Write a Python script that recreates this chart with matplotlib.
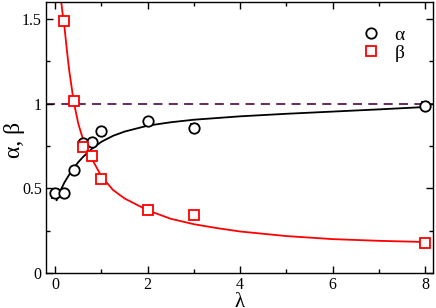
import matplotlib
matplotlib.use("Agg")
import matplotlib.pyplot as plt
from matplotlib.ticker import MultipleLocator
from matplotlib.lines import Line2D

plt.rcParams['font.family'] = ['Liberation Serif', 'DejaVu Serif']
plt.rcParams['mathtext.fontset'] = 'stix'

# data points
lam_alpha = [0, 0.2, 0.4, 0.6, 0.8, 1.0, 2.0, 3.0, 8.0]
alpha = [0.47, 0.47, 0.61, 0.765, 0.775, 0.84, 0.90, 0.857, 0.987]
alpha_err = [0.025, 0.01, 0.01, 0.01, 0.01, 0.01, 0.01, 0.025, 0.025]

lam_beta = [0.2, 0.4, 0.6, 0.8, 1.0, 2.0, 3.0, 8.0]
beta = [1.485, 1.017, 0.741, 0.69, 0.555, 0.37, 0.342, 0.175]

# fitted curves
fit_alpha_x = [0.03, 0.1, 0.2, 0.3, 0.4, 0.5, 0.6, 0.8, 1.0, 1.25, 1.5, 2.0, 2.5, 3.0, 4.0, 5.0, 6.0, 7.0, 8.0]
fit_alpha_y = [0.43, 0.48, 0.535, 0.58, 0.62, 0.655, 0.685, 0.735, 0.775, 0.81, 0.835, 0.87, 0.89, 0.905, 0.925, 0.94, 0.953, 0.966, 0.98]

fit_beta_x = [0.13, 0.16, 0.2, 0.25, 0.3, 0.4, 0.5, 0.6, 0.8, 1.0, 1.25, 1.5, 2.0, 2.5, 3.0, 3.5, 4.0, 5.0, 6.0, 7.0, 8.0]
fit_beta_y = [1.6, 1.53, 1.45, 1.32, 1.2, 1.01, 0.88, 0.79, 0.67, 0.57, 0.49, 0.44, 0.37, 0.32, 0.288, 0.265, 0.245, 0.218, 0.2, 0.19, 0.183]

ref_level = 1.0

fig = plt.figure(figsize=(4.36, 3.08), dpi=100)
ax = fig.add_axes([46/436, 1 - 273/308, (433-46)/436, (273-2)/308])

ax.axhline(ref_level, color='#5c1a4e', lw=1.3, ls=(0, (5, 3.5)), zorder=1)
ax.plot(fit_alpha_x, fit_alpha_y, color='black', lw=1.3, zorder=2)
ax.plot(fit_beta_x, fit_beta_y, color='red', lw=1.3, zorder=2)

ax.errorbar(lam_alpha, alpha, yerr=alpha_err, fmt='o', ms=7.5, mfc='white', mec='black',
            mew=1.3, ecolor='black', elinewidth=1, capsize=3, zorder=3)
ax.plot(lam_beta, beta, 's', ms=7, mfc='white', mec='red', mew=1.3, ls='none', zorder=4)

ax.set_xlim(-0.2, 8.17)
ax.set_ylim(0, 1.6)
ax.xaxis.set_minor_locator(MultipleLocator(1))
ax.yaxis.set_minor_locator(MultipleLocator(0.25))
ax.set_xticks([0, 2, 4, 6, 8])
ax.set_xticklabels(['0', '2', '4', '6', '8'])
ax.set_yticks([0, 0.5, 1, 1.5])
ax.set_yticklabels(['0', '0.5', '1', '1.5'])
ax.tick_params(which='both', direction='in', top=True, right=True, labelsize=11.5)
ax.tick_params(which='major', length=5, width=1)
ax.tick_params(which='minor', length=3, width=1)
ax.tick_params(axis='x', pad=3)
ax.tick_params(axis='y', pad=3)
for s in ax.spines.values():
    s.set_linewidth(1)

ax.set_xlabel('λ', fontsize=15)
ax.xaxis.set_label_coords(0.5, -0.072)
ax.set_ylabel('α, β', fontsize=17)
ax.yaxis.set_label_coords(-0.055, 0.49)

handles = [
    Line2D([], [], marker='o', ls='none', ms=7.5, mfc='white', mec='black', mew=1.3),
    Line2D([], [], marker='s', ls='none', ms=7, mfc='white', mec='red', mew=1.3),
]
ax.legend(handles, ['α', 'β'], loc='upper right', bbox_to_anchor=(0.962, 0.962), frameon=False,
          fontsize=14, handletextpad=0.7, borderpad=0.2, labelspacing=0.05, handlelength=1.0)

fig.savefig('out.png', dpi=100)
